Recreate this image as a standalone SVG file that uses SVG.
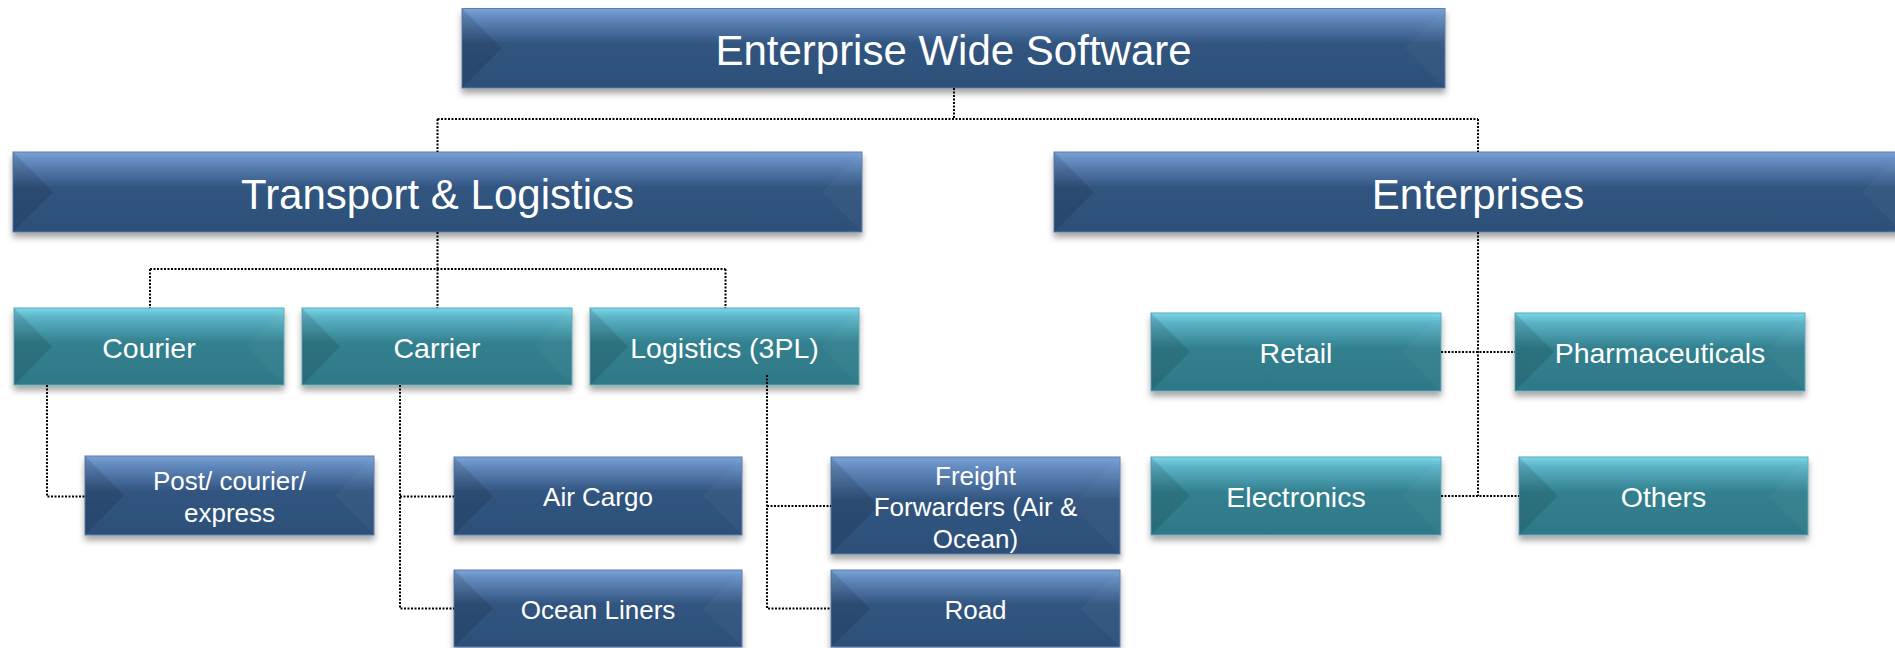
<svg xmlns="http://www.w3.org/2000/svg" width="1895" height="648" viewBox="0 0 1895 648">
<defs>
<linearGradient id="gBlue" x1="0" y1="0" x2="0" y2="1">
<stop offset="0" stop-color="#7aa2d6"/>
<stop offset="0.12" stop-color="#6289bd"/>
<stop offset="0.45" stop-color="#30547f"/>
<stop offset="1" stop-color="#2e5079"/>
</linearGradient>
<linearGradient id="gTeal" x1="0" y1="0" x2="0" y2="1">
<stop offset="0" stop-color="#7ad7ea"/>
<stop offset="0.12" stop-color="#5cb3c6"/>
<stop offset="0.45" stop-color="#32808f"/>
<stop offset="1" stop-color="#2e7888"/>
</linearGradient>
<filter id="sh" x="-5%" y="-20%" width="110%" height="150%">
<feDropShadow dx="0" dy="5" stdDeviation="3" flood-color="#000" flood-opacity="0.35"/>
</filter>
</defs>
<style>
.blue{fill:url(#gBlue);stroke:#5d7fa8;stroke-width:1;filter:url(#sh)}
.teal{fill:url(#gTeal);stroke:#5ea8b6;stroke-width:1;filter:url(#sh)}
.bl{fill:#000;fill-opacity:0.11}
.br{fill:#fff;fill-opacity:0.03}
text{font-family:"Liberation Sans",Arial,sans-serif;fill:#fff;text-anchor:middle}
.t1{font-size:42px}
.t2{font-size:28.5px}
.t3{font-size:26px}
.con{fill:none;stroke:#000;stroke-width:2;stroke-dasharray:2 1.5}
</style>

<g id="n-top">
<rect class="blue" x="462" y="8.5" width="983" height="79.5"/>
<polygon class="bl" points="462,8.5 502,48 462,88"/>
<polygon class="br" points="1445,8.5 1405,48 1445,88"/>
<text class="t1" x="953.5" y="65">Enterprise Wide Software</text>
</g>

<g id="n-transport">
<rect class="blue" x="13" y="152" width="849" height="80"/>
<polygon class="bl" points="13,152 53,192 13,232"/>
<polygon class="br" points="862,152 822,192 862,232"/>
<text class="t1" x="437.5" y="209">Transport &amp; Logistics</text>
</g>

<g id="n-enterprises">
<rect class="blue" x="1054" y="152" width="848" height="80"/>
<polygon class="bl" points="1054,152 1094,192 1054,232"/>
<polygon class="br" points="1902,152 1862,192 1902,232"/>
<text class="t1" x="1478" y="209">Enterprises</text>
</g>

<g id="n-courier">
<rect class="teal" x="14" y="308" width="270" height="77"/>
<polygon class="bl" points="14,308 52,346.5 14,385"/>
<polygon class="br" points="284,308 246,346.5 284,385"/>
<text class="t2" x="149" y="357.5">Courier</text>
</g>

<g id="n-carrier">
<rect class="teal" x="302" y="308" width="270" height="77"/>
<polygon class="bl" points="302,308 340,346.5 302,385"/>
<polygon class="br" points="572,308 534,346.5 572,385"/>
<text class="t2" x="437" y="357.5">Carrier</text>
</g>

<g id="n-logistics">
<rect class="teal" x="590" y="308" width="269" height="77"/>
<polygon class="bl" points="590,308 628,346.5 590,385"/>
<polygon class="br" points="859,308 821,346.5 859,385"/>
<text class="t2" x="724.5" y="357.5">Logistics (3PL)</text>
</g>

<g id="n-retail">
<rect class="teal" x="1151" y="313" width="290" height="78"/>
<polygon class="bl" points="1151,313 1190,352 1151,391"/>
<polygon class="br" points="1441,313 1402,352 1441,391"/>
<text class="t2" x="1296" y="363">Retail</text>
</g>

<g id="n-pharma">
<rect class="teal" x="1515" y="313" width="290" height="78"/>
<polygon class="bl" points="1515,313 1554,352 1515,391"/>
<polygon class="br" points="1805,313 1766,352 1805,391"/>
<text class="t2" x="1660" y="363">Pharmaceuticals</text>
</g>

<g id="n-electronics">
<rect class="teal" x="1151" y="457" width="290" height="78"/>
<polygon class="bl" points="1151,457 1190,496 1151,535"/>
<polygon class="br" points="1441,457 1402,496 1441,535"/>
<text class="t2" x="1296" y="507">Electronics</text>
</g>

<g id="n-others">
<rect class="teal" x="1519" y="457" width="289" height="78"/>
<polygon class="bl" points="1519,457 1558,496 1519,535"/>
<polygon class="br" points="1808,457 1769,496 1808,535"/>
<text class="t2" x="1663.5" y="507">Others</text>
</g>

<g id="n-post">
<rect class="blue" x="85" y="456" width="289" height="79"/>
<polygon class="bl" points="85,456 124,495.5 85,535"/>
<polygon class="br" points="374,456 335,495.5 374,535"/>
<text class="t3" x="229.5" y="490">Post/ courier/</text>
<text class="t3" x="229.5" y="522">express</text>
</g>

<g id="n-aircargo">
<rect class="blue" x="454" y="457" width="288" height="78"/>
<polygon class="bl" points="454,457 493,496 454,535"/>
<polygon class="br" points="742,457 703,496 742,535"/>
<text class="t3" x="598" y="506">Air Cargo</text>
</g>

<g id="n-ocean">
<rect class="blue" x="454" y="570" width="288" height="77"/>
<polygon class="bl" points="454,570 493,608.5 454,647"/>
<polygon class="br" points="742,570 703,608.5 742,647"/>
<text class="t3" x="598" y="618.5">Ocean Liners</text>
</g>

<g id="n-freight">
<rect class="blue" x="831" y="457" width="289" height="97"/>
<polygon class="bl" points="831,457 879,505.5 831,554"/>
<polygon class="br" points="1120,457 1072,505.5 1120,554"/>
<text class="t3" x="975.5" y="484.5">Freight</text>
<text class="t3" x="975.5" y="516">Forwarders (Air &amp;</text>
<text class="t3" x="975.5" y="547.5">Ocean)</text>
</g>

<g id="n-road">
<rect class="blue" x="831" y="570" width="289" height="77"/>
<polygon class="bl" points="831,570 870,608.5 831,647"/>
<polygon class="br" points="1120,570 1081,608.5 1120,647"/>
<text class="t3" x="975.5" y="618.5">Road</text>
</g>

<g id="connectors">
<path class="con" d="M954,88 V119 M437.5,119 H1478 M437.5,119 V152 M1478,119 V152"/>
<path class="con" d="M437.5,232 V269 M150,269 H725.5 M150,269 V308 M437.5,269 V308 M725.5,269 V308"/>
<path class="con" d="M47,385 V496.5 H85"/>
<path class="con" d="M400,385 V608.5 H454 M400,496.5 H454"/>
<path class="con" d="M767,375 V608.5 H831 M767,506 H831"/>
<path class="con" d="M1478,232 V496 M1441,352 H1515 M1441,496 H1519"/>
</g>
</svg>
